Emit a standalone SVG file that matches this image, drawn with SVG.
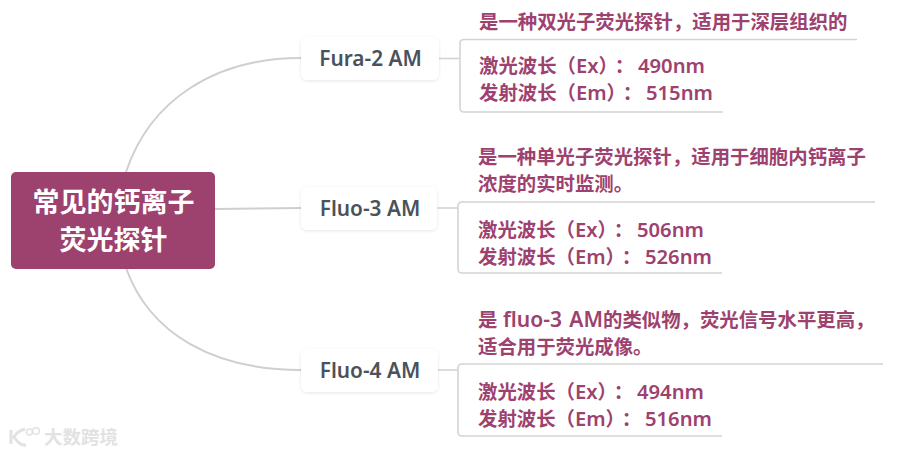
<svg xmlns="http://www.w3.org/2000/svg" width="900" height="454" viewBox="0 0 900 454">
<defs>
<style>
text{font-family:"Noto Sans","Noto Sans CJK SC",sans-serif;font-weight:700}
.root{fill:#9d416f}
.rt{fill:#fff;font-size:27px;text-anchor:middle}
.card{fill:#fff;filter:url(#sh)}
.nt{fill:#4b525a;font-size:20.800px;text-anchor:middle;font-weight:600}
.d{fill:#9d416f;font-size:19.400px}
.l{font-size:20.200px;font-weight:600}
.w{font-size:21px;font-weight:600;word-spacing:2px}
.c{fill:none;stroke:#cfcfcf;stroke-width:2}
.b{fill:none;stroke:#d4d4d4;stroke-width:1.600}
.wm{fill:#e2e2e2;font-size:18.500px}
.lg{fill:none;stroke:#e2e2e2}
</style>
<filter id="sh" x="-10%" y="-20%" width="120%" height="150%"><feDropShadow dx="0" dy="1" stdDeviation="1.500" flood-color="#000" flood-opacity="0.1"/></filter>
</defs>
<rect width="900" height="454" fill="#fff"/>
<g id="connectors">
<path class="c" d="M126 172C150 100 215 58 301 58"/>
<path class="c" d="M215 209L301 208"/>
<path class="c" d="M126 268C150 335 215 370 301 370"/>
<path class="b" d="M439 58.500H460"/>
<path class="b" d="M437 208H458"/>
<path class="b" d="M438 370H458"/>
<path class="b" d="M857 39.500H464Q460 39.500 460 43.500V108Q460 112 464 112H723"/>
<path class="b" d="M875 202H462Q458 202 458 206V269Q458 273 462 273H722"/>
<path class="b" d="M883 364H462Q458 364 458 368V432Q458 436 462 436H722"/>
</g>
<g id="root"><rect class="root" x="11" y="172" width="204" height="97" rx="5"/>
<text class="rt" x="113.500" y="212">常见的钙离子</text><text class="rt" x="113.500" y="250">荧光探针</text></g>
<g id="n1"><rect class="card" x="301" y="37" width="138" height="43" rx="6"/><text class="nt" x="370.500" y="65.500">Fura-2 AM</text></g>
<g id="n2"><rect class="card" x="301" y="187" width="136" height="43" rx="6"/><text class="nt" x="370" y="215.500">Fluo-3 AM</text></g>
<g id="n3"><rect class="card" x="301" y="349" width="137" height="43" rx="6"/><text class="nt" x="370" y="377.500">Fluo-4 AM</text></g>
<g id="d1"><text class="d" x="479" y="29">是一种双光子荧光探针，适用于深层组织的</text>
<text class="d" x="479" y="73">激光波长（<tspan class="l">Ex</tspan>）<tspan dx="6.500">：</tspan><tspan class="l" x="638">490nm</tspan></text>
<text class="d" x="479" y="100">发射波长（<tspan class="l">Em</tspan>）<tspan dx="6.500">：</tspan><tspan class="l" x="646">515nm</tspan></text></g>
<g id="d2"><text class="d" x="478" y="164">是一种单光子荧光探针，适用于细胞内钙离子</text><text class="d" x="478" y="191">浓度的实时监测。</text>
<text class="d" x="478" y="237">激光波长（<tspan class="l">Ex</tspan>）<tspan dx="6.500">：</tspan><tspan class="l" x="637">506nm</tspan></text>
<text class="d" x="478" y="264">发射波长（<tspan class="l">Em</tspan>）<tspan dx="6.500">：</tspan><tspan class="l" x="645">526nm</tspan></text></g>
<g id="d3"><text class="d" x="478" y="327">是 <tspan class="w" x="503">fluo-3 AM</tspan><tspan x="603">的类似物，荧光信号水平更高，</tspan></text><text class="d" x="478" y="354">适合用于荧光成像。</text>
<text class="d" x="478" y="399">激光波长（<tspan class="l">Ex</tspan>）<tspan dx="6.500">：</tspan><tspan class="l" x="637">494nm</tspan></text>
<text class="d" x="478" y="426">发射波长（<tspan class="l">Em</tspan>）<tspan dx="6.500">：</tspan><tspan class="l" x="645">516nm</tspan></text></g>
<g id="watermark"><path class="lg" stroke-width="3" d="M11 430V444M25 429C18 431 15 435 14 437C17 441 20 446 26 445"/><circle class="lg" stroke-width="1.500" cx="29.500" cy="432" r="3"/><circle class="lg" stroke-width="1.500" cx="36" cy="431" r="3.300"/>
<text class="wm" x="44" y="444">大数跨境</text></g>
</svg>
